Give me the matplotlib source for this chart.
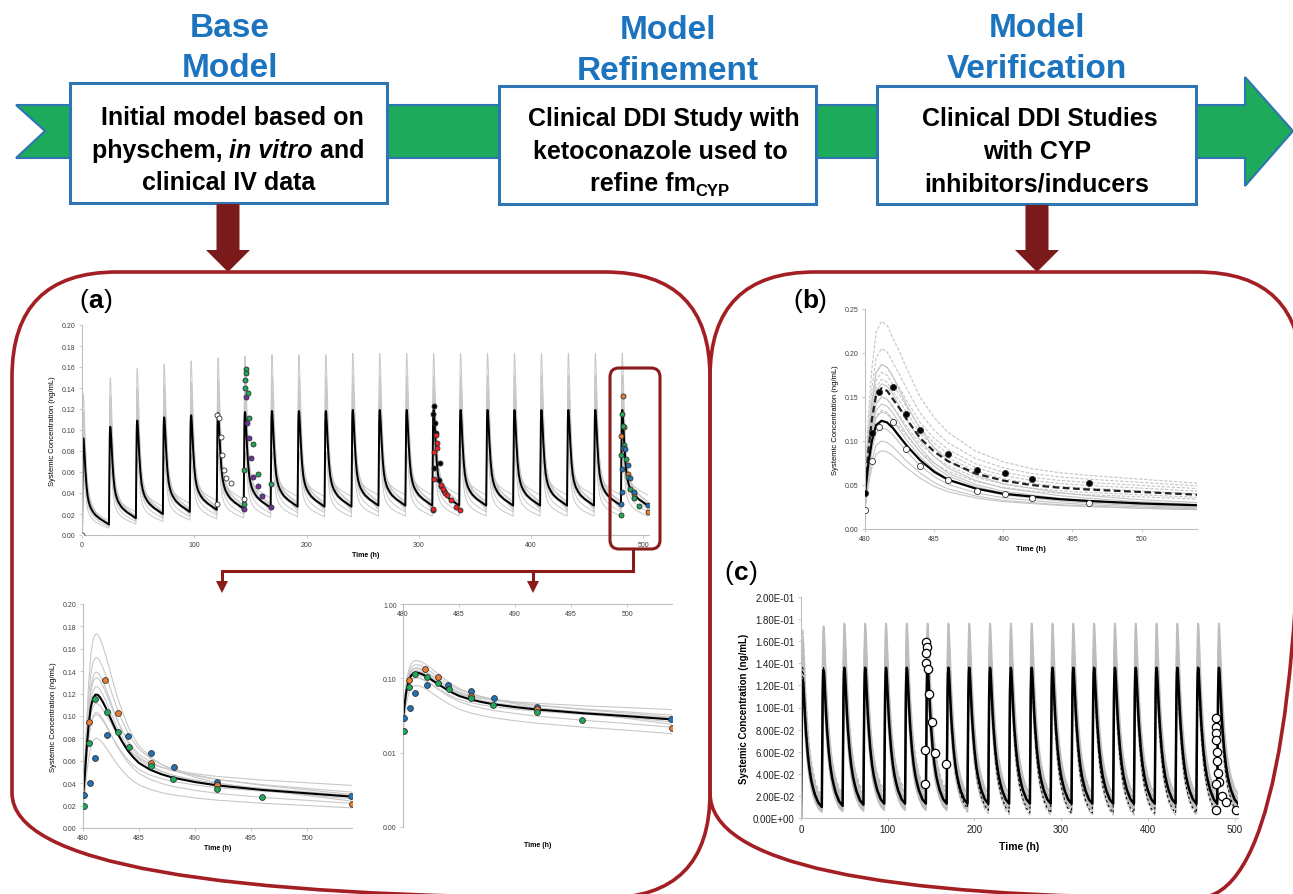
import numpy as np
import matplotlib
matplotlib.use('Agg')
import matplotlib.pyplot as plt
from matplotlib.patches import FancyBboxPatch, Polygon, Rectangle

W, H = 1293, 895

# ---------------- data ----------------
dose_times = [24 * i for i in range(21)]

# (a) steady-state mean profile (time after dose, ng/mL), read from the 480-504 h zoom
a_prof_t = [0, 0.15, 0.3, 0.5, 0.7, 0.9, 1.1, 1.3, 1.5, 1.8, 2.1, 2.5, 3, 3.5, 4, 4.5, 5,
            6, 7, 8, 10, 12, 14, 16, 20, 24]
a_prof_c = [0.028, 0.045, 0.068, 0.092, 0.108, 0.116, 0.119, 0.119, 0.117, 0.112, 0.106,
            0.097, 0.086, 0.077, 0.069, 0.063, 0.058, 0.052, 0.048, 0.045, 0.041, 0.038,
            0.036, 0.034, 0.031, 0.028]
# per-dose peaks / troughs of the mean curve (top chart)
a_mean_peak = [0.092, 0.103, 0.109, 0.112, 0.114, 0.116, 0.117, 0.118, 0.118, 0.118, 0.119,
               0.119, 0.119, 0.119, 0.119, 0.119, 0.119, 0.119, 0.119, 0.119, 0.119]
a_mean_trough = [0.010, 0.016, 0.020, 0.022, 0.024, 0.025, 0.026, 0.027, 0.027, 0.027, 0.028,
                 0.028, 0.028, 0.028, 0.028, 0.028, 0.028, 0.028, 0.028, 0.028, 0.028]
# individual trial (grey) curves: steady-state peak and trough
grey_a_peak = [0.173, 0.152, 0.139, 0.134, 0.126, 0.111, 0.103, 0.101, 0.080]
grey_a_trough = [0.024, 0.030, 0.026, 0.032, 0.029, 0.038, 0.022, 0.028, 0.018]

# (a) observed data
a_white_t = [0, 120.3, 122.1, 123.9, 124.6, 126.5, 128.6, 132.3, 120.3, 144.0]
a_white_c = [0.0, 0.1146, 0.111, 0.0937, 0.0759, 0.0619, 0.0546, 0.0495, 0.030, 0.034]
a_green_t = [145.8, 146.5, 145.4, 145.0, 147.6, 148.7, 152.3, 156.7, 144.7, 144.3, 168.7]
a_green_c = [0.158, 0.1546, 0.148, 0.140, 0.135, 0.1117, 0.0863, 0.0578, 0.0616, 0.0298, 0.0489]
a_purple_t = [145.8, 147.2, 148.7, 150.1, 152.3, 156.7, 160.7, 168.7, 144.3]
a_purple_c = [0.131, 0.107, 0.0927, 0.0733, 0.0556, 0.0467, 0.0371, 0.0267, 0.0244]
a_black_t = [313.8, 312.7, 314.5, 315.2, 313.4, 318.9, 317.8, 319.6, 322.5, 312.3]
a_black_c = [0.1225, 0.1156, 0.1063, 0.0975, 0.0641, 0.069, 0.0524, 0.0467, 0.0419, 0.0235]
a_red_t = [315.2, 316.3, 313.4, 316.3, 313.4, 319.6, 321.5, 323.3, 325.0, 328.7, 333.4, 337.0, 312.7]
a_red_c = [0.0949, 0.0873, 0.0790, 0.083, 0.053, 0.048, 0.0435, 0.040, 0.0378, 0.0333, 0.027,
           0.0238, 0.025]
ss_blue_t = [480.1, 480.6, 481.1, 482.1, 484.0, 486.1, 488.1, 492.0, 503.9]
ss_blue_c = [0.0292, 0.0405, 0.0626, 0.0826, 0.0823, 0.0668, 0.0545, 0.0411, 0.0286]
ss_orange_t = [480.5, 482.0, 483.1, 486.1, 492.0, 504.0]
ss_orange_c = [0.0945, 0.1323, 0.1031, 0.0581, 0.0387, 0.0215]
ss_green_t = [480.1, 480.5, 481.1, 482.1, 483.1, 484.1, 486.1, 488.0, 492.0, 496.0]
ss_green_c = [0.0194, 0.0763, 0.1156, 0.1037, 0.0858, 0.0724, 0.0551, 0.0441, 0.0352, 0.0274]

# (b) ketoconazole DDI
b_t = [480, 480.25, 480.5, 480.8, 481.2, 481.6, 482, 482.5, 483, 484, 485, 486, 488, 490,
       492, 494, 496, 500, 504]
b_solid = [0.040, 0.075, 0.100, 0.118, 0.123, 0.121, 0.115, 0.105, 0.095, 0.078, 0.065,
           0.056, 0.046, 0.040, 0.037, 0.034, 0.032, 0.029, 0.027]
b_dashed = [0.040, 0.090, 0.125, 0.152, 0.160, 0.157, 0.148, 0.137, 0.125, 0.103, 0.088,
            0.077, 0.063, 0.055, 0.050, 0.047, 0.045, 0.042, 0.039]
grey_b_peak = [0.187, 0.165, 0.150, 0.142, 0.133, 0.115, 0.100, 0.089]
grey_b_tail = [0.030, 0.028, 0.026, 0.025, 0.024, 0.023, 0.022, 0.022]
greyd_b_peak = [0.236, 0.205, 0.187, 0.178, 0.170, 0.150, 0.135]
greyd_b_tail = [0.052, 0.049, 0.046, 0.043, 0.040, 0.036, 0.034]
b_fill_t = [480, 480.5, 481.0, 482.0, 483.0, 484.0, 486.0, 488.1, 490.1, 492.1, 496.2, 504.3]
b_fill_c = [0.0405, 0.109, 0.156, 0.161, 0.131, 0.112, 0.0848, 0.067, 0.0636, 0.0564, 0.0523, 0.0405]
b_open_t = [480, 480.5, 481.0, 482.0, 483.0, 484.0, 486.0, 488.1, 490.1, 492.1, 496.2]
b_open_c = [0.0216, 0.0769, 0.116, 0.1216, 0.0913, 0.072, 0.0557, 0.0428, 0.0398, 0.0356, 0.0292]

# (c) inducer study
c_prof_t = [0, 0.3, 0.6, 1.0, 1.5, 2.0, 2.5, 3, 4, 5, 6, 8, 10, 12, 14, 16, 20, 24]
c_prof_c = [0.013, 0.045, 0.080, 0.112, 0.130, 0.136, 0.134, 0.127, 0.110, 0.095, 0.082,
            0.062, 0.048, 0.038, 0.031, 0.025, 0.017, 0.013]
c_mean_peak = [0.125, 0.134] + [0.136] * 19
c_mean_trough = [0.010, 0.011, 0.012] + [0.013] * 18
grey_c_peak = [0.176, 0.160, 0.150, 0.140, 0.128, 0.118]
grey_c_trough = [0.022, 0.018, 0.016, 0.012, 0.009, 0.007]
c_ind_peak = [0.136] * 7 + [0.134, 0.132, 0.130, 0.128] + [0.127] * 10
c_ind_trough = [0.010, 0.011, 0.012, 0.013, 0.013, 0.013, 0.013, 0.009, 0.007, 0.0055,
                0.0048] + [0.0045] * 10
greyd_c_scale = [1.25, 1.1, 0.95]
greyd_c_tscale = [2.0, 1.4, 0.6]
c_open_t = [144.0, 144.8, 144.4, 143.6, 145.9, 147.1, 150.9, 154.8, 143.2, 143.2, 166.7,
            478.1, 478.1, 478.9, 478.1, 479.3, 479.6, 481.1, 481.9, 478.1, 485.2, 489.6,
            478.1, 501.2]
c_open_c = [0.159, 0.1546, 0.1495, 0.140, 0.135, 0.112, 0.0868, 0.0584, 0.0617, 0.0306, 0.0493,
            0.0902, 0.082, 0.0769, 0.0702, 0.0599, 0.0517, 0.0411, 0.033, 0.0306, 0.020, 0.0145,
            0.007, 0.007]

BLUE_T = '#1C74BF'
DARK_RED = '#7A1A1A'
PANEL_RED = '#A31F24'
GREEN = '#1DAA5A'
PURPLE = '#7030A0'
RED = '#F02020'
ORANGE = '#ED7D31'
PT_BLUE = '#2272B8'
GREY = '#C8C8C8'


def scaled(prof_c, start, peak, end):
    prof_c = np.asarray(prof_c, float)
    k = int(np.argmax(prof_c))
    rise = (prof_c[:k + 1] - prof_c[0]) / (prof_c[k] - prof_c[0])
    fall = (prof_c[k:] - prof_c[-1]) / (prof_c[k] - prof_c[-1])
    return np.concatenate([start + (peak - start) * rise, end + (peak - end) * fall[1:]])


def course(peaks, troughs, prof_t, prof_c):
    ts, cs = [], []
    start = 0.0
    for td, p, tr in zip(dose_times, peaks, troughs):
        ts.append(td + np.asarray(prof_t, float))
        cs.append(scaled(prof_c, start, p, tr))
        start = tr
    return np.concatenate(ts), np.concatenate(cs)


def px_axes(fig, x0, y0, x1, y1):
    return fig.add_axes([x0 / W, 1 - y1 / H, (x1 - x0) / W, (y1 - y0) / H])


def style_axes(ax, fs):
    for s in ['top', 'right']:
        ax.spines[s].set_visible(False)
    for s in ['left', 'bottom']:
        ax.spines[s].set_color('#BFBFBF')
        ax.spines[s].set_linewidth(0.8)
    ax.tick_params(colors='#BFBFBF', labelcolor='#404040', labelsize=fs, length=2.5,
                   width=0.6, pad=2)
    ax.set_facecolor('none')


plt.rcParams['font.family'] = ['Liberation Sans', 'DejaVu Sans']
fig = plt.figure(figsize=(W / 100, H / 100), dpi=100)

mk = dict(ls='none', marker='o', mec='#303030', mew=0.6, zorder=5)

# ---------------- (a) top: full course ----------------
ax = px_axes(fig, 82, 326, 649, 536)
style_axes(ax, 5)
for gp, gt in zip(grey_a_peak, grey_a_trough):
    pk = [gp * p / a_mean_peak[-1] for p in a_mean_peak]
    tr = [gt * t / a_mean_trough[-1] for t in a_mean_trough]
    t, c = course(pk, tr, a_prof_t, a_prof_c)
    ax.plot(t, c, color=GREY, lw=0.7)
t, c = course(a_mean_peak, a_mean_trough, a_prof_t, a_prof_c)
ax.plot(t, c, color='black', lw=1.4)
ax.plot(a_white_t, a_white_c, mfc='white', ms=3.6, **mk)
ax.plot(a_purple_t, a_purple_c, mfc=PURPLE, ms=3.6, **mk)
ax.plot(a_green_t, a_green_c, mfc=GREEN, ms=3.6, **mk)
ax.plot(a_black_t, a_black_c, mfc='black', ms=3.6, **mk)
ax.plot(a_red_t, a_red_c, mfc=RED, ms=3.6, **mk)
ax.plot(ss_orange_t, ss_orange_c, mfc=ORANGE, ms=3.6, **mk)
ax.plot(ss_green_t, ss_green_c, mfc=GREEN, ms=3.6, **mk)
ax.plot(ss_blue_t, ss_blue_c, mfc=PT_BLUE, ms=3.6, **mk)
ax.set_xlim(0, 505)
ax.set_ylim(0, 0.2)
ax.set_xticks(range(0, 501, 100))
ax.set_yticks(np.arange(0, 0.201, 0.02))
ax.yaxis.set_major_formatter(matplotlib.ticker.FormatStrFormatter('%.2f'))
ax.set_xlabel('Time (h)', fontsize=5, fontweight='bold', labelpad=2)
ax.set_ylabel('Systemic Concentration (ng/mL)', fontsize=5.5, labelpad=4)


def steady(ax):
    for gp, gt in zip(grey_a_peak, grey_a_trough):
        ax.plot(np.asarray(a_prof_t) + 480, scaled(a_prof_c, gt, gp, gt), color=GREY, lw=0.8)
    ax.plot(np.asarray(a_prof_t) + 480, a_prof_c, color='black', lw=1.5)
    ax.plot(ss_blue_t, ss_blue_c, mfc=PT_BLUE, ms=4.2, **mk)
    ax.plot(ss_orange_t, ss_orange_c, mfc=ORANGE, ms=4.2, **mk)
    ax.plot(ss_green_t, ss_green_c, mfc=GREEN, ms=4.2, **mk)
    ax.set_xlim(480, 504)
    ax.set_xticks(range(480, 501, 5))


# ---------------- (a) bottom left: linear ----------------
ax = px_axes(fig, 83, 605, 352, 829)
style_axes(ax, 5)
steady(ax)
ax.set_ylim(0, 0.2)
ax.set_yticks(np.arange(0, 0.201, 0.02))
ax.yaxis.set_major_formatter(matplotlib.ticker.FormatStrFormatter('%.2f'))
ax.set_xlabel('Time (h)', fontsize=5, fontweight='bold', labelpad=2)
ax.set_ylabel('Systemic Concentration (ng/mL)', fontsize=5.5, labelpad=4)

# ---------------- (a) bottom right: log ----------------
ax = px_axes(fig, 403, 605, 672, 828)
style_axes(ax, 5)
steady(ax)
ax.set_yscale('log')
ax.set_ylim(0.001, 1)
ax.set_yticks([0.001, 0.01, 0.1, 1])
ax.yaxis.set_minor_locator(matplotlib.ticker.NullLocator())
ax.yaxis.set_major_formatter(matplotlib.ticker.FormatStrFormatter('%.2f'))
ax.spines['bottom'].set_visible(False)
ax.spines['top'].set_visible(True)
ax.spines['top'].set_color('#BFBFBF')
ax.tick_params(axis='x', bottom=False, labelbottom=False, top=True, labeltop=True,
               direction='in', pad=-9)
ax.set_xlabel('Time (h)', fontsize=5, fontweight='bold', labelpad=10)
ax.xaxis.set_label_position('bottom')

# ---------------- (b) ----------------
ax = px_axes(fig, 865, 310, 1197, 530)
style_axes(ax, 5)
bt = np.asarray(b_t)
for gp, gt in zip(greyd_b_peak, greyd_b_tail):
    ax.plot(bt, scaled(b_dashed, gt, gp, gt), color='#C4C4C4', lw=0.8, ls=(0, (3, 1.5)))
for gp, gt in zip(grey_b_peak, grey_b_tail):
    ax.plot(bt, scaled(b_solid, gt, gp, gt), color='#C4C4C4', lw=0.8)
ax.plot(bt, b_dashed, color='#202020', lw=1.6, ls=(0, (3, 1.6)))
ax.plot(bt, b_solid, color='black', lw=1.6)
ax.plot(b_fill_t, b_fill_c, mfc='black', ms=4.4, **mk)
ax.plot(b_open_t, b_open_c, mfc='white', ms=4.4, **mk)
ax.set_xlim(480, 504)
ax.set_xticks(range(480, 501, 5))
ax.set_ylim(0, 0.25)
ax.set_yticks(np.arange(0, 0.251, 0.05))
ax.yaxis.set_major_formatter(matplotlib.ticker.FormatStrFormatter('%.2f'))
ax.set_xlabel('Time (h)', fontsize=5.5, fontweight='bold', labelpad=2)
ax.set_ylabel('Systemic Concentration (ng/mL)', fontsize=5.5, labelpad=4)

# ---------------- (c) ----------------
ax = px_axes(fig, 801, 598, 1238, 819)
style_axes(ax, 7)
ax.tick_params(labelcolor='#202020')
for gp, gt in zip(grey_c_peak, grey_c_trough):
    pk = [gp * p / c_mean_peak[-1] for p in c_mean_peak]
    tr = [gt * t / c_mean_trough[-1] for t in c_mean_trough]
    t, c = course(pk, tr, c_prof_t, c_prof_c)
    ax.plot(t, c, color='#BDBDBD', lw=1.3)
for sp, st in zip(greyd_c_scale, greyd_c_tscale):
    t, c = course([p * sp for p in c_ind_peak], [v * st for v in c_ind_trough],
                  c_prof_t, c_prof_c)
    ax.plot(t, c, color='#BDBDBD', lw=1.0, ls=(0, (3, 1.5)))
t, c = course(c_ind_peak, c_ind_trough, c_prof_t, c_prof_c)
ax.plot(t, c, color='black', lw=0.8, ls=(0, (2, 2.5)))
t, c = course(c_mean_peak, c_mean_trough, c_prof_t, c_prof_c)
ax.plot(t, c, color='black', lw=1.8)
ax.plot(c_open_t, c_open_c, mfc='white', ms=6, mec='black', mew=0.9, ls='none', marker='o',
        zorder=5)
ax.set_xlim(0, 504)
ax.set_xticks(range(0, 501, 100))
ax.set_ylim(0, 0.2)
ax.set_yticks(np.arange(0, 0.201, 0.02))
ax.yaxis.set_major_formatter(matplotlib.ticker.FormatStrFormatter('%.2E'))
ax.set_xlabel('Time (h)', fontsize=7.5, fontweight='bold', labelpad=5)
ax.set_ylabel('Systemic Concentration (ng/mL)', fontsize=7, fontweight='bold', labelpad=3)

# ---------------- overlay: header, panels, connectors ----------------
ov = fig.add_axes([0, 0, 1, 1])
ov.set_xlim(0, W)
ov.set_ylim(H, 0)
ov.axis('off')
ov.set_facecolor('none')

band = [(16, 106), (1245, 106), (1245, 78), (1293, 132), (1245, 187), (1245, 159),
        (16, 159), (45, 132)]
ov.add_patch(Polygon(band, closed=True, fc=GREEN, ec='#2E75B6', lw=1.5))
for x0, y0, x1, y1 in [(70, 84, 387, 204), (499, 87, 816, 205), (877, 87, 1196, 205)]:
    ov.add_patch(Rectangle((x0, y0), x1 - x0, y1 - y0, fc='white', ec='#2E75B6', lw=2.2))


def down_arrow(xc, y0, y1, shaft=23, head=44, head_len=22, color=DARK_RED):
    pts = [(xc - shaft / 2, y0), (xc + shaft / 2, y0), (xc + shaft / 2, y1 - head_len),
           (xc + head / 2, y1 - head_len), (xc, y1), (xc - head / 2, y1 - head_len),
           (xc - shaft / 2, y1 - head_len)]
    ov.add_patch(Polygon(pts, closed=True, fc=color, ec='none'))


down_arrow(228, 205, 273)
down_arrow(1037, 206, 273)

ov.add_patch(FancyBboxPatch((12, 273), 698, 626, boxstyle='round,pad=0,rounding_size=105',
                            fc='none', ec=PANEL_RED, lw=2.6))
ov.add_patch(FancyBboxPatch((710, 273), 592, 626, boxstyle='round,pad=0,rounding_size=105',
                            fc='none', ec=PANEL_RED, lw=2.6))
ov.add_patch(FancyBboxPatch((610, 369), 50, 181, boxstyle='round,pad=0,rounding_size=9',
                            fc='none', ec='#8B1A1A', lw=2.2, zorder=6))
ov.plot([633, 633, 222, 222], [550, 572, 572, 584], color='#8B1A1A', lw=2.2,
        solid_joinstyle='miter')
ov.plot([533, 533], [572, 584], color='#8B1A1A', lw=2.2)
for xc in [222, 533]:
    ov.add_patch(Polygon([(xc - 6, 582), (xc + 6, 582), (xc, 594)], closed=True,
                         fc='#8B1A1A', ec='none'))

renderer = fig.canvas.get_renderer()


def rich(x, y, parts):
    objs = []
    for txt, kw in parts:
        kw = dict(kw)
        dy = kw.pop('dy', 0)
        objs.append(ov.text(0, y + dy, txt, ha='left', va='baseline', **kw))
    widths = [o.get_window_extent(renderer).width for o in objs]
    cur = x - sum(widths) / 2
    for o, w in zip(objs, widths):
        o.set_x(cur)
        cur += w


title_kw = dict(fontsize=24, fontweight='bold', color=BLUE_T)
rich(230, 37, [('Base', title_kw)])
rich(230, 77, [('Model', title_kw)])
rich(668, 39, [('Model', title_kw)])
rich(668, 80, [('Refinement', title_kw)])
rich(1037, 37, [('Model', title_kw)])
rich(1037, 78, [('Verification', title_kw)])

bk = dict(fontsize=18, fontweight='bold', color='black')
bi = dict(fontsize=18, fontweight='bold', style='italic', color='black')
rich(232, 125, [('Initial model based on', bk)])
rich(228, 158, [('physchem, ', bk), ('in vitro', bi), (' and', bk)])
rich(229, 190, [('clinical IV data', bk)])
rich(664, 126, [('Clinical DDI Study with', bk)])
rich(660, 159, [('ketoconazole used to', bk)])
rich(660, 191, [('refine fm', bk), ('CYP', dict(fontsize=12, fontweight='bold', dy=5))])
rich(1040, 126, [('Clinical DDI Studies', bk)])
rich(1037, 159, [('with CYP', bk)])
rich(1037, 191, [('inhibitors/inducers', bk)])

lab_n = dict(fontsize=19, color='black')
lab_b = dict(fontsize=19, fontweight='bold', color='black')
rich(96, 308, [('(', lab_n), ('a', lab_b), (')', lab_n)])
rich(810, 308, [('(', lab_n), ('b', lab_b), (')', lab_n)])
rich(741, 580, [('(', lab_n), ('c', lab_b), (')', lab_n)])

fig.savefig('out.png', dpi=100)
